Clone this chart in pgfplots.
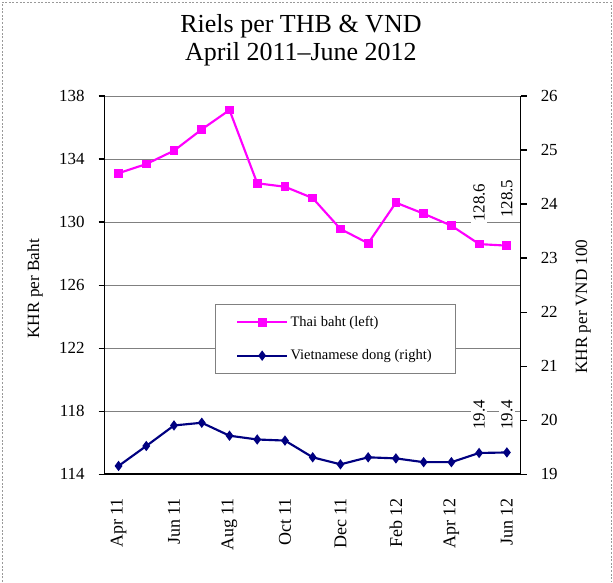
\documentclass[border=0pt]{standalone}
\usepackage{fontspec}
\setmainfont{Liberation Serif}
\usepackage{pgfplots}
\usepackage{pgfplotstable}
\pgfplotsset{compat=1.18}
\definecolor{thbcol}{RGB}{255,0,255}
\definecolor{vndcol}{RGB}{0,0,128}

\pgfplotstableread{
x thb
0 133.10
1 133.68
2 134.53
3 135.88
4 137.11
5 132.46
6 132.24
7 131.52
8 129.56
9 128.65
10 131.23
11 130.53
12 129.77
13 128.6
14 128.5
}\thbtable

\pgfplotstableread{
x vnd
0 19.15
1 19.52
2 19.90
3 19.95
4 19.71
5 19.64
6 19.62
7 19.31
8 19.18
9 19.31
10 19.29
11 19.22
12 19.22
13 19.39
14 19.40
}\vndtable

\pgfplotsset{
  base/.style={
    scale only axis, width=312pt, height=283.5pt,
    xmin=-0.5, xmax=14.5,
    axis line style={line width=1pt},
    tick style={black, line width=0.8pt},
    major tick length=4.5pt,
    tick align=outside,
    ticklabel style={font=\fontsize{12.7}{15}\selectfont},
    /pgf/number format/assume math mode=true,
    /pgf/number format/1000 sep={},
    yticklabel shift=7pt,
  },
  thbstyle/.style={thbcol, line width=1.6pt, mark=square*, mark size=2.5pt, mark options={solid}},
  vndstyle/.style={vndcol, line width=1.6pt, mark=diamond*, mark size=2.6pt, mark options={solid}},
}

\begin{document}
\begin{tikzpicture}
\path[use as bounding box] (-78.5pt,-81pt) rectangle (381.2pt,355.5pt);
\draw[gray!80, dash pattern=on 1.5pt off 1.2pt, line width=0.7pt] (-77pt,-81pt) -- (-77pt,354pt) -- (379.7pt,354pt) -- (379.7pt,-81pt);

\node[anchor=base, font=\fontsize{19.5}{22}\selectfont] at (147.2pt,330.75pt) {Riels per THB \& VND};
\node[anchor=base, font=\fontsize{19.5}{22}\selectfont] at (147.2pt,310.5pt) {April 2011–June 2012};

\begin{axis}[base, at={(0,0)}, anchor=south west,
  ymin=114, ymax=138, ytick={114,118,...,138},
  ymajorgrids, grid style={gray, line width=0.6pt},
  axis y line*=left, axis x line*=bottom,
  xtick={0,2,...,14},
  xticklabels={Apr 11,Jun 11,Aug 11,Oct 11,Dec 11,Feb 12,Apr 12,Jun 12},
  xtick style={draw=none},
  minor xtick={-0.5,1.5,...,13.5},
  minor tick length=4.5pt,
  minor tick style={black, line width=0.8pt},
  xticklabel style={rotate=90, anchor=east, font=\fontsize{13.5}{16}\selectfont},
  xticklabel shift=10pt,
  ylabel={KHR per Baht},
  ylabel style={at={(axis description cs:-0.1676,0.49)}, anchor=center, rotate=0, font=\fontsize{12.9}{15}\selectfont},
]
\addplot[thbstyle] table[x=x, y=thb]{\thbtable};
\node[rotate=90, anchor=west, fill=white, inner sep=1.5pt, font=\fontsize{12.7}{15}\selectfont] at (axis cs:13,129.87) {128.6};
\node[rotate=90, anchor=west, fill=white, inner sep=1.5pt, font=\fontsize{12.7}{15}\selectfont] at (axis cs:14,130.12) {128.5};
\end{axis}

\begin{axis}[base, at={(0,0)}, anchor=south west,
  ymin=19, ymax=26, ytick={19,20,...,26},
  axis y line*=right, axis x line=none,
  ylabel={KHR per VND 100},
  ylabel style={at={(axis description cs:1.150,0.443)}, anchor=center, rotate=0, font=\fontsize{12.9}{15}\selectfont},
  legend image code/.code={\draw[mark repeat=2, mark phase=2, #1] plot coordinates {(0cm,0cm) (0.65cm,0cm) (1.3cm,0cm)};},
  legend style={at={(0.266,0.449)}, anchor=north west, draw=gray, fill=white, line width=0.6pt,
    font=\fontsize{10.9}{13}\selectfont, inner xsep=15.5pt, inner ysep=6.5pt, row sep=12pt},
  legend cell align=left,
]
\addlegendimage{thbstyle}
\addlegendentry{Thai baht (left)}
\addplot[vndstyle] table[x=x, y=vnd]{\vndtable};
\addlegendentry{Vietnamese dong (right)}
\node[rotate=90, anchor=west, fill=white, inner sep=1.5pt, font=\fontsize{12.7}{15}\selectfont] at (axis cs:13,19.78) {19.4};
\node[rotate=90, anchor=west, fill=white, inner sep=1.5pt, font=\fontsize{12.7}{15}\selectfont] at (axis cs:14,19.78) {19.4};
\end{axis}
\end{tikzpicture}
\end{document}
